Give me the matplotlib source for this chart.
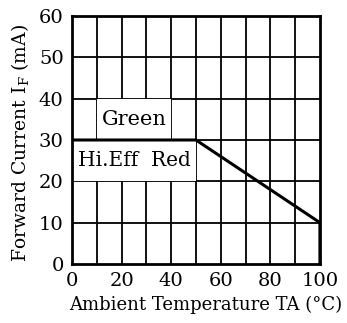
import matplotlib.pyplot as plt
from matplotlib.patches import Rectangle

# derating curve (Ta in C, IF in mA)
temp = [0, 50, 100, 100]
current = [30, 30, 10, 0]
x_ticks = [0, 20, 40, 60, 80, 100]
y_ticks = [0, 10, 20, 30, 40, 50, 60]
labels = ['Green', 'Hi.Eff  Red']

plt.rcParams['font.family'] = 'DejaVu Serif'
plt.rcParams['mathtext.fontset'] = 'dejavuserif'

fig = plt.figure(figsize=(3.47, 3.23), dpi=100)
ax = fig.add_axes([0.2075, 0.1827, 0.7145, 0.7678])

# grid every 10 units
for gx in range(10, 100, 10):
    ax.axvline(gx, color='black', lw=1.3, zorder=1)
for gy in range(10, 60, 10):
    ax.axhline(gy, color='black', lw=1.3, zorder=1)

# white label boxes hiding the grid
ax.add_patch(Rectangle((10, 30), 30, 10, facecolor='white', edgecolor='none', zorder=2))
ax.add_patch(Rectangle((0, 20), 50, 10, facecolor='white', edgecolor='none', zorder=2))
ax.text(25, 35, labels[0], ha='center', va='center', fontsize=15, zorder=3)
ax.text(25, 25, labels[1], ha='center', va='center', fontsize=14.5, zorder=3)

ax.plot(temp, current, color='black', lw=2.2, zorder=4)

ax.set_xlim(0, 100)
ax.set_ylim(0, 60)
ax.set_xticks(x_ticks)
ax.set_yticks(y_ticks)
ax.tick_params(length=0, labelsize=14, pad=6)
for s in ax.spines.values():
    s.set_linewidth(2)
ax.set_xlabel('Ambient Temperature TA (°C)', fontsize=13)
ax.set_ylabel('Forward Current I$_{\\rm F}$ (mA)', fontsize=13.5)
ax.xaxis.set_label_coords(0.54, -0.165)
ax.xaxis.label.set_va('center')
ax.yaxis.set_label_coords(-0.21, 0.49)
ax.yaxis.label.set_va('center')

fig.savefig('out.png', dpi=100)
